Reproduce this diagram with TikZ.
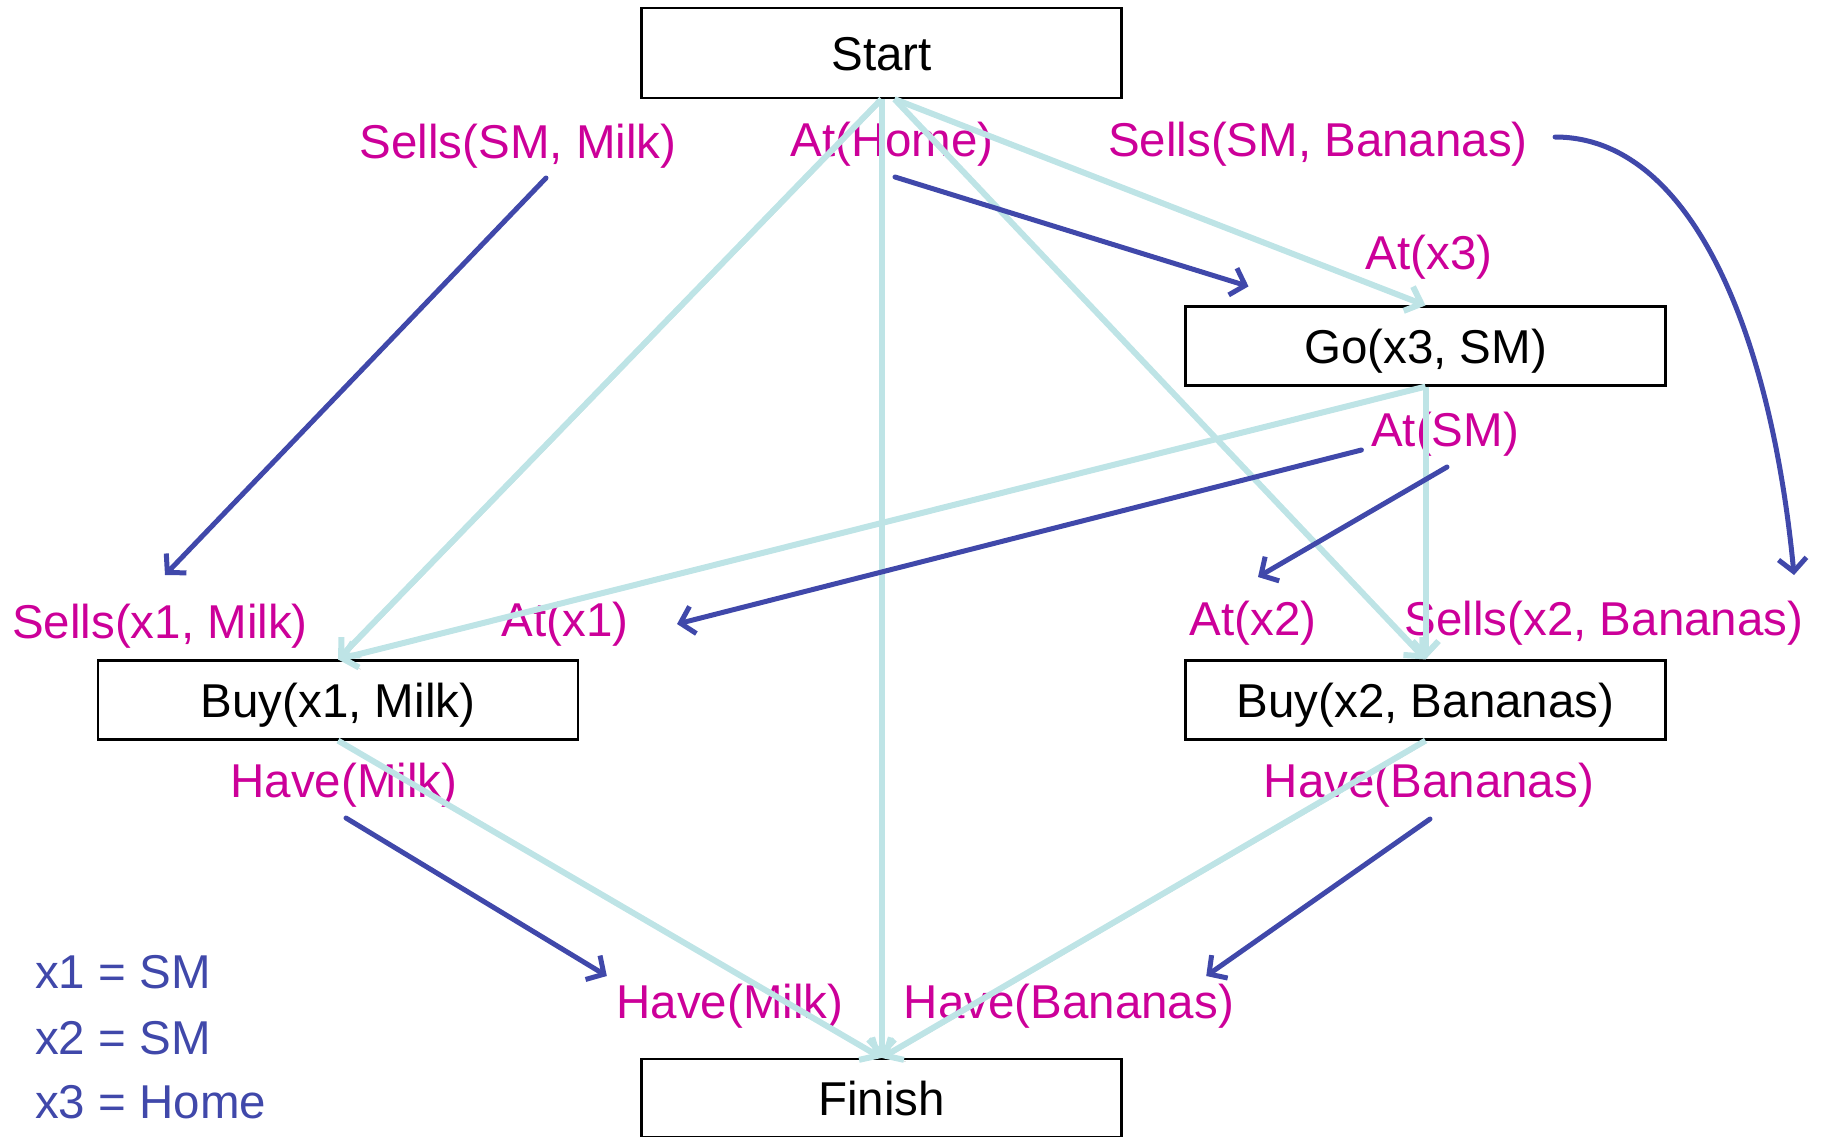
\documentclass[tikz,border=0pt]{standalone}
\usepackage{fontspec}
\setmainfont{Liberation Sans}
\usetikzlibrary{arrows.meta,calc}
\definecolor{mag}{RGB}{204,0,153}
\definecolor{darrow}{RGB}{64,72,170}
\definecolor{ltcyan}{RGB}{190,228,230}
\tikzset{
  big/.style={font=\fontsize{47.5}{57}\selectfont},
  cond/.style={big, text=mag, inner sep=0pt, anchor=base},
  actbox/.style={big, draw=black, line width=2.2pt, inner sep=0pt, text height=34pt, text depth=0pt, minimum width=480pt, minimum height=79pt},
  link/.style={draw=ltcyan, line width=6pt, -{Straight Barb[length=14pt,width=26pt]},
    preaction={draw=black!18, transform canvas={shift={(1.8pt,-1.8pt)}}, -{Straight Barb[length=14pt,width=26pt]}}},
  bind/.style={draw=darrow, line width=5pt, line cap=round, -{Straight Barb[length=13pt,width=28pt]}},
  legend/.style={big, text=darrow, inner sep=0pt, anchor=base west}
}
\begin{document}
\begin{tikzpicture}[x=1pt,y=-1pt]
\useasboundingbox (0,0) rectangle (1824,1136);
% action boxes
\node[actbox, minimum height=90pt] (start) at (881.5,53) {Start};
\node[actbox] (go) at (1425.5,346) {Go(x3, SM)};
\node[actbox] (buy1) at (338,700) {Buy(x1, Milk)};
\node[actbox] (buy2) at (1425.5,700) {Buy(x2, Bananas)};
\node[actbox, minimum height=78pt] (finish) at (881.5,1098) {Finish};
% conditions
\node[cond] (lsm) at (518,158) {Sells(SM, Milk)};
\node[cond] (lhome) at (892,156) {At(Home)};
\node[cond] (lsb) at (1318,156) {Sells(SM, Bananas)};
\node[cond] (lx3) at (1429,269) {At(x3)};
\node[cond] (lsmat) at (1445,446) {At(SM)};
\node[cond] (lsx1) at (160,638) {Sells(x1, Milk)};
\node[cond] (lax1) at (565,636) {At(x1)};
\node[cond] (lax2) at (1253,635) {At(x2)};
\node[cond] (lsx2) at (1604,635) {Sells(x2, Bananas)};
\node[cond] (lhm1) at (344,797) {Have(Milk)};
\node[cond] (lhb1) at (1429,797) {Have(Bananas)};
\node[cond] (lhm2) at (730,1018) {Have(Milk)};
\node[cond] (lhb2) at (1069,1018) {Have(Bananas)};
% legend
\node[legend] (eq1) at (35,988) {x1 = SM};
\node[legend] (eq2) at (35,1054) {x2 = SM};
\node[legend] (eq3) at (35,1118) {x3 = Home};
% causal links
\draw[link] (start.south) -- (buy1.north);
\draw[link] (start.south) -- (finish.north);
\draw[link] ($(start.south)+(13,0)$) -- (buy2.north);
\draw[link] ($(start.south)+(13,0)$) -- (go.north);
\draw[link] (go.south) -- (buy1.north);
\draw[link] (go.south) -- (buy2.north);
\draw[link] (buy1.south) -- (finish.north);
\draw[link] (buy2.south) -- (finish.north);
% bindings
\draw[bind] ($(lsm.base)+(28,20)$) -- ($(lsx1.base)+(5,-63)$);
\draw[bind] ($(lhome.base)+(3,21)$) -- ($(go.north)+(-177,-19)$);
\draw[bind] ($(lsb.base east)+(27,-19)$) .. controls ($(lsb.base east)+(162,-19)$) and ($(lsx2.base east)+(-33,-305)$) .. ($(lsx2.base east)+(-9.5,-60)$);
\draw[bind] ($(lsmat.base west)+(-9.5,4)$) -- ($(lax1.base east)+(48.5,-12)$);
\draw[bind] ($(lsmat.base)+(2,21)$) -- ($(lax2.base)+(5,-58)$);
\draw[bind] ($(lhm1.base)+(2,21)$) -- ($(lhm2.base west)+(-9.5,-42)$);
\draw[bind] ($(lhb1.base)+(1,22)$) -- ($(lhb2.base east)+(-28,-42)$);
\end{tikzpicture}
\end{document}
